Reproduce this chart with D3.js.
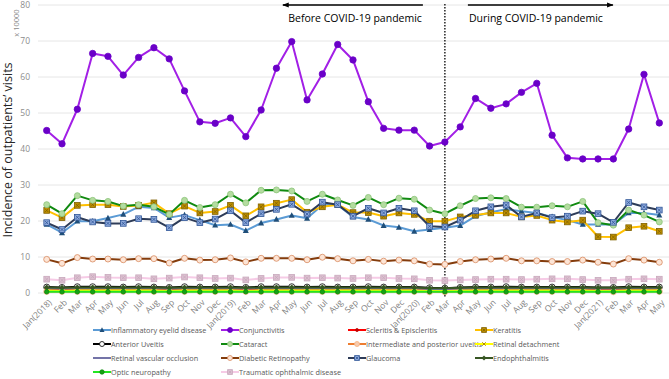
<!DOCTYPE html>
<html>
<head>
<meta charset='utf-8'>
<title>Outpatient visits</title>
<script src='https://cdn.jsdelivr.net/npm/d3@7'></script>
<style>
  body { margin: 0; background: #fff; }
  text { font-family: 'Open Sans', 'Noto Sans', sans-serif; }
</style>
</head>
<body>
<svg width='669' height='379'></svg>
<script>

// month labels (Jan 2018 - May 2021)
const months = ['Jan(2018)','Feb','Mar','Apr','May','Jun','Jul','Aug','Sep','Oct','Nov','Dec',
  'Jan(2019)','Feb','Mar','Apr','May','Jun','Jul','Aug','Sep','Oct','Nov','Dec',
  'Jan(2020)','Feb','Mar','Apr','May','Jun','Jul','Aug','Sep','Oct','Nov','Dec',
  'Jan(2021)','Feb','Mar','Apr','May']
const yTicks = [0, 10, 20, 30, 40, 50, 60, 70, 80]

// values, x 10000 visits
const inflammatory = [18.9,16.6,19.8,19.8,20.7,21.7,23.8,23.5,20.8,21.5,20.1,18.7,18.9,17.2,19.3,20.3,21.4,20.6,24.3,24.3,21.0,20.3,18.6,18.1,17.0,17.5,18.0,18.6,21.2,22.3,23.1,22.6,22.1,21.0,20.1,18.9,18.9,18.9,22.1,22.1,21.5]
const conjunctivitis = [45.0,41.3,50.9,66.4,65.6,60.4,65.3,68.0,64.9,56.0,47.4,47.0,48.5,43.3,50.7,62.3,69.7,53.5,60.7,68.9,64.6,53.0,45.6,45.1,45.1,40.7,41.8,46.0,53.9,51.2,52.4,55.6,58.1,43.7,37.4,37.1,37.1,37.1,45.4,60.6,47.1]
const scleritis = [0.9,0.8,0.9,0.9,0.9,0.9,0.9,0.9,0.8,0.9,0.9,0.9,0.9,0.8,0.9,0.9,0.9,0.9,0.9,0.9,0.9,0.9,0.9,0.8,0.8,0.7,0.7,0.8,0.8,0.9,0.9,0.9,0.8,0.8,0.8,0.8,0.8,0.7,0.8,0.8,0.8]
const keratitis = [22.8,20.8,24.2,24.4,24.4,23.9,24.2,24.9,21.9,24.0,22.1,22.5,24.2,21.3,23.8,24.8,25.8,22.3,23.8,24.4,22.2,22.2,21.2,22.1,21.7,19.8,19.8,21.0,21.5,22.1,22.1,21.0,21.4,20.1,19.6,20.1,15.5,15.4,18.0,18.4,17.0]
const anteriorUveitis = [1.5,1.4,1.6,1.6,1.6,1.5,1.6,1.5,1.4,1.6,1.5,1.5,1.6,1.4,1.6,1.6,1.6,1.5,1.6,1.5,1.5,1.6,1.5,1.5,1.5,1.3,1.2,1.4,1.5,1.5,1.6,1.5,1.5,1.5,1.5,1.5,1.4,1.4,1.6,1.5,1.5]
const cataract = [24.4,21.9,26.9,25.6,25.3,24.0,24.4,23.8,21.7,25.6,23.6,24.4,27.3,24.9,28.4,28.5,28.2,25.3,27.3,25.7,24.2,26.4,24.4,26.2,25.9,22.9,21.9,24.1,26.1,26.3,26.1,23.7,23.7,24.1,23.8,25.3,19.4,18.7,22.9,21.5,19.6]
const intermediateUveitis = [0.3,0.3,0.3,0.3,0.3,0.3,0.3,0.3,0.3,0.3,0.3,0.3,0.3,0.3,0.3,0.3,0.3,0.3,0.3,0.3,0.3,0.3,0.3,0.3,0.3,0.2,0.2,0.3,0.3,0.3,0.3,0.3,0.3,0.3,0.3,0.3,0.3,0.2,0.3,0.3,0.3]
const retinalDetachment = [0.6,0.5,0.6,0.6,0.6,0.6,0.6,0.6,0.5,0.6,0.6,0.6,0.6,0.5,0.6,0.6,0.6,0.6,0.6,0.6,0.6,0.6,0.6,0.6,0.6,0.5,0.5,0.6,0.6,0.6,0.6,0.6,0.6,0.6,0.6,0.6,0.5,0.5,0.6,0.6,0.6]
const retinalVascular = [1.2,1.1,1.2,1.2,1.2,1.2,1.2,1.2,1.1,1.2,1.2,1.2,1.2,1.1,1.2,1.2,1.2,1.2,1.2,1.2,1.2,1.2,1.2,1.2,1.2,1.0,1.0,1.1,1.2,1.2,1.2,1.2,1.2,1.2,1.2,1.2,1.1,1.1,1.2,1.2,1.2]
const diabeticRetinopathy = [9.2,8.1,9.7,9.3,9.3,9.1,9.4,9.4,8.2,9.5,9.0,9.1,9.6,8.5,9.5,9.5,9.5,9.1,9.8,9.4,8.8,9.2,8.7,9.0,8.8,7.9,7.8,8.6,9.1,9.3,9.5,8.8,8.8,8.6,8.6,9.0,8.4,7.9,9.4,9.0,8.4]
const glaucoma = [19.4,17.5,20.9,19.6,19.2,19.2,20.5,20.3,18.0,20.8,19.4,20.4,22.7,19.4,21.9,23.1,24.5,21.8,25.1,24.4,21.2,23.4,22.1,23.4,22.7,18.4,18.2,20.1,22.7,23.8,24.3,21.0,22.1,20.8,21.2,22.6,21.9,19.5,25.0,23.8,22.9]
const endophthalmitis = [1.4,1.3,1.4,1.4,1.4,1.4,1.4,1.4,1.3,1.4,1.4,1.4,1.4,1.3,1.4,1.4,1.4,1.4,1.4,1.4,1.4,1.4,1.4,1.4,1.4,1.2,1.2,1.3,1.4,1.4,1.4,1.4,1.4,1.4,1.4,1.4,1.3,1.3,1.4,1.4,1.4]
const opticNeuropathy = [0.2,0.2,0.2,0.2,0.2,0.2,0.2,0.2,0.2,0.2,0.2,0.2,0.2,0.2,0.2,0.2,0.2,0.2,0.2,0.2,0.2,0.2,0.2,0.2,0.2,0.2,0.2,0.2,0.2,0.2,0.2,0.2,0.2,0.2,0.2,0.2,0.2,0.2,0.2,0.2,0.2]
const traumatic = [3.7,3.4,4.1,4.4,4.2,4.1,4.1,3.8,4.0,4.3,4.1,3.9,4.0,3.5,3.9,4.2,4.2,4.0,4.1,4.0,3.9,4.1,4.1,3.9,3.8,3.4,3.3,3.5,3.6,3.7,3.7,3.6,3.7,3.8,3.8,3.6,3.4,3.4,3.7,3.8,3.7]

const series = [
  { name: 'Inflammatory eyelid disease', values: inflammatory, line: '#5b9bd5', marker: 'triangle', fill: '#1f4e79', stroke: '#1f4e79' },
  { name: 'Conjunctivitis', values: conjunctivitis, line: '#a21fe6', marker: 'circle', fill: '#6a00c8', stroke: '#6a00c8', r: 3.2 },
  { name: 'Scleritis & Episcleritis', values: scleritis, line: '#ff0000', marker: 'circle', fill: '#c00000', stroke: '#c00000', r: 1.5 },
  { name: 'Keratitis', values: keratitis, line: '#ffc000', marker: 'squarex', fill: '#bf9000', stroke: '#7f6000' },
  { name: 'Anterior Uveitis', values: anteriorUveitis, line: '#000000', marker: 'circle', fill: '#ffffff', stroke: '#000000' },
  { name: 'Cataract', values: cataract, line: '#108a10', marker: 'circle', fill: '#b4dca0', stroke: '#8cc47a' },
  { name: 'Intermediate and posterior uveitis', values: intermediateUveitis, line: '#ed7d31', marker: 'circle', fill: '#f8cbad', stroke: '#f4b183' },
  { name: 'Retinal detachment', values: retinalDetachment, line: '#ffff00', marker: 'x', fill: 'none', stroke: '#b08f00' },
  { name: 'Retinal vascular occlusion', values: retinalVascular, line: '#7474a8', marker: 'none' },
  { name: 'Diabetic Retinopathy', values: diabeticRetinopathy, line: '#843c0c', marker: 'circle', fill: '#fde5d6', stroke: '#d88a60' },
  { name: 'Glaucoma', values: glaucoma, line: '#2e3c58', marker: 'squarex', fill: '#8faadc', stroke: '#2f5597' },
  { name: 'Endophthalmitis', values: endophthalmitis, line: '#375623', marker: 'diamond', fill: '#375623', stroke: '#375623' },
  { name: 'Optic neuropathy', values: opticNeuropathy, line: '#22e622', marker: 'circle', fill: '#16a016', stroke: '#0a8a0a', r: 2.2 },
  { name: 'Traumatic ophthalmic disease', values: traumatic, line: '#f6cbe6', marker: 'squarex', fill: '#dcc0d0', stroke: '#c8a8bc' }
]

const svg = d3.select('svg')

const xScale = d3.scaleLinear().domain([0, months.length - 1]).range([46.7, 659.3])
const yScale = d3.scaleLinear().domain([0, 80]).range([292.5, 4.5])

// gridlines + y labels
const yAxis = d3.axisLeft(yScale).tickValues(yTicks).tickSize(-(669 - 38)).tickPadding(8)
const gy = svg.append('g').attr('transform', 'translate(38,0)').call(yAxis)
gy.select('.domain').remove()
gy.selectAll('.tick line').attr('stroke', '#e6e6e6')
gy.selectAll('.tick text').attr('fill', '#8c8c8c').attr('font-size', '8.5px')

// x labels
const xAxis = d3.axisBottom(xScale).tickValues(d3.range(months.length)).tickFormat(i => months[i]).tickSize(0)
const gx = svg.append('g').attr('transform', 'translate(0,297)').call(xAxis)
gx.select('.domain').remove()
gx.selectAll('.tick text')
  .attr('fill', '#7f7f7f').attr('font-size', '8.5px')
  .attr('text-anchor', 'end').attr('dy', '0.35em').attr('dx', 0).attr('y', 0)
  .attr('transform', 'translate(3,4) rotate(-45)')

// axis titles
svg.append('text').attr('transform', 'translate(12,150) rotate(-90)')
  .attr('text-anchor', 'middle').attr('font-size', '12.5px').attr('fill', '#262626')
  .text('Incidence of outpatients\u2019 visits')
svg.append('text').attr('transform', 'translate(19,23) rotate(-90)')
  .attr('text-anchor', 'middle').attr('font-size', '7.5px').attr('fill', '#8c8c8c')
  .text('x 10000')

// pandemic divider
const xSplit = xScale(26)
svg.append('line').attr('x1', xSplit).attr('x2', xSplit).attr('y1', 4).attr('y2', 298)
  .attr('stroke', '#000').attr('stroke-width', 1.3).attr('stroke-dasharray', '1.5,1.5')

const defs = svg.append('defs')
defs.append('marker').attr('id', 'arrow').attr('viewBox', '0 0 10 10')
  .attr('refX', 9).attr('refY', 5).attr('markerWidth', 5).attr('markerHeight', 5)
  .attr('orient', 'auto-start-reverse')
  .append('path').attr('d', 'M0,1L10,5L0,9z').attr('fill', '#000')

svg.append('line').attr('x1', xSplit - 22).attr('x2', xSplit - 162).attr('y1', 5).attr('y2', 5)
  .attr('stroke', '#000').attr('stroke-width', 1.3).attr('marker-end', 'url(#arrow)')
svg.append('line').attr('x1', xSplit + 23).attr('x2', xSplit + 168).attr('y1', 5).attr('y2', 5)
  .attr('stroke', '#000').attr('stroke-width', 1.3).attr('marker-end', 'url(#arrow)')
svg.append('text').attr('x', xSplit - 23).attr('y', 22).attr('text-anchor', 'end')
  .attr('font-size', '10.5px').attr('fill', '#000').text('Before COVID-19 pandemic')
svg.append('text').attr('x', xSplit + 24).attr('y', 22)
  .attr('font-size', '10.5px').attr('fill', '#000').text('During COVID-19 pandemic')

// marker drawing
function drawMarker(sel, s, size) {
  const r = s.r || size
  if (s.marker === 'none') return
  if (s.marker === 'circle') {
    sel.append('circle').attr('r', r).attr('fill', s.fill).attr('stroke', s.stroke).attr('stroke-width', 0.8)
  } else if (s.marker === 'triangle') {
    sel.append('path').attr('d', `M0,${-r * 1.1}L${r},${r * 0.8}L${-r},${r * 0.8}Z`).attr('fill', s.fill)
  } else if (s.marker === 'diamond') {
    sel.append('path').attr('d', `M0,${-r}L${r},0L0,${r}L${-r},0Z`).attr('fill', s.fill)
  } else if (s.marker === 'squarex') {
    const h = r * 0.95
    sel.append('rect').attr('x', -h).attr('y', -h).attr('width', 2 * h).attr('height', 2 * h)
      .attr('fill', s.fill).attr('stroke', s.stroke).attr('stroke-width', 0.8)
    sel.append('path').attr('d', `M${-h * 0.6},${-h * 0.6}L${h * 0.6},${h * 0.6}M${h * 0.6},${-h * 0.6}L${-h * 0.6},${h * 0.6}`)
      .attr('stroke', s.stroke).attr('stroke-width', 0.8)
  } else if (s.marker === 'x') {
    sel.append('path').attr('d', `M${-r * 0.7},${-r * 0.7}L${r * 0.7},${r * 0.7}M${r * 0.7},${-r * 0.7}L${-r * 0.7},${r * 0.7}`)
      .attr('stroke', s.stroke).attr('stroke-width', 1)
  }
}

const line = d3.line().x((d, i) => xScale(i)).y(d => yScale(d))

series.forEach(s => {
  const g = svg.append('g')
  g.append('path').datum(s.values).attr('d', line)
    .attr('fill', 'none').attr('stroke', s.line).attr('stroke-width', 2).attr('stroke-linejoin', 'round')
  g.selectAll('g.pt').data(s.values).enter().append('g')
    .attr('transform', (d, i) => `translate(${xScale(i)},${yScale(d)})`)
    .each(function () { drawMarker(d3.select(this), s, 3) })
})

// legend, 4 columns
const legendX = [93, 221, 348, 475]
const legendY = [330, 344, 358, 372]
const legend = svg.append('g')
series.forEach((s, i) => {
  const g = legend.append('g')
    .attr('transform', `translate(${legendX[i % 4]},${legendY[Math.floor(i / 4)]})`)
  g.append('line').attr('x1', 0).attr('x2', 18).attr('stroke', s.line).attr('stroke-width', 2)
  const m = g.append('g').attr('transform', 'translate(9,0)')
  drawMarker(m, Object.assign({}, s, { r: Math.min(s.r || 2.5, 2.5) }), 2.5)
  g.append('text').attr('x', 18).attr('y', 0).attr('dy', '0.35em')
    .attr('font-size', '7.3px').attr('fill', '#595959').text(s.name)
})

</script>
</body>
</html>
